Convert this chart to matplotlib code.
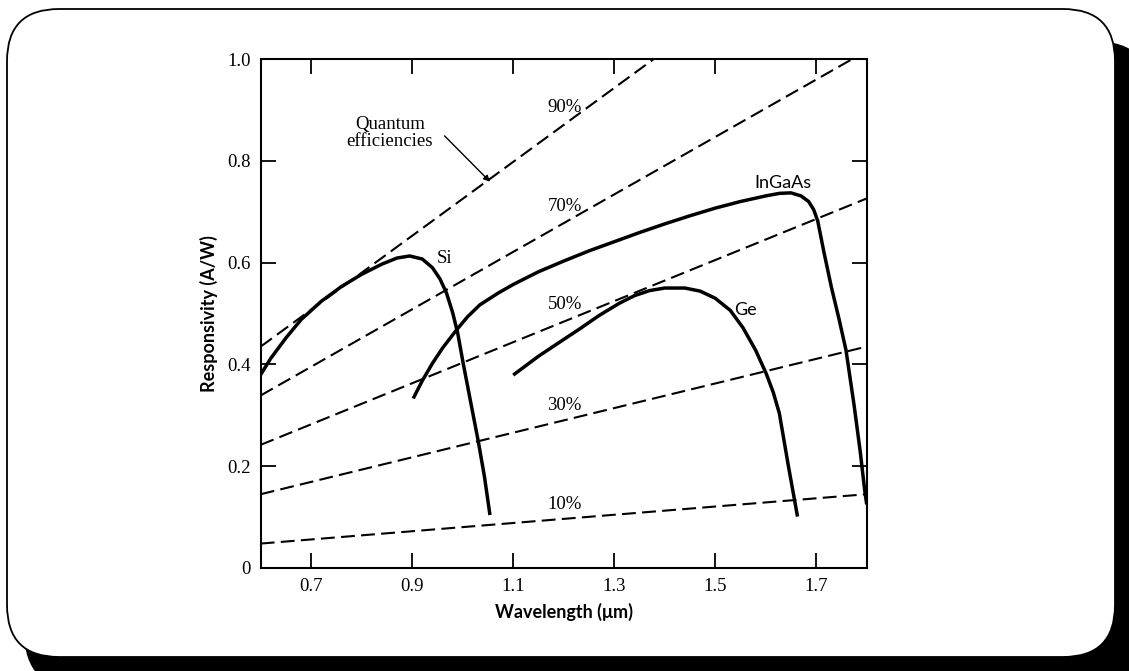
"""Photodiode responsivity vs wavelength with quantum-efficiency lines."""
import matplotlib.pyplot as plt
import matplotlib.patches as patches

plt.rcParams['lines.scale_dashes'] = False

# Quantum-efficiency reference lines (responsivity at 0.6 um and 1.8 um)
qe_labels = ['10%', '30%', '50%', '70%', '90%']
qe_wavelength = [0.6, 1.8]
qe_resp_start = [0.048, 0.145, 0.242, 0.339, 0.435]
qe_resp_end = [0.145, 0.435, 0.726, 1.016, 1.306]

# Measured responsivity curves
si_wl = [0.600, 0.620, 0.650, 0.680, 0.720, 0.760, 0.800, 0.840, 0.870,
         0.895, 0.920, 0.940, 0.955, 0.968, 0.980, 0.990, 1.001, 1.015,
         1.031, 1.043, 1.054]
si_resp = [0.380, 0.412, 0.452, 0.488, 0.524, 0.553, 0.577, 0.597, 0.609,
           0.613, 0.607, 0.590, 0.568, 0.540, 0.502, 0.462, 0.402, 0.330,
           0.248, 0.180, 0.104]

ingaas_wl = [0.902, 0.920, 0.940, 0.960, 0.988, 1.010, 1.034, 1.070, 1.100,
             1.150, 1.200, 1.250, 1.300, 1.350, 1.400, 1.450, 1.500, 1.550,
             1.600, 1.627, 1.650, 1.670, 1.685, 1.695, 1.703, 1.715, 1.730,
             1.745, 1.759, 1.775, 1.787, 1.796, 1.800]
ingaas_resp = [0.333, 0.368, 0.402, 0.432, 0.468, 0.494, 0.517, 0.540, 0.557,
               0.582, 0.603, 0.623, 0.641, 0.659, 0.676, 0.692, 0.707, 0.720,
               0.731, 0.736, 0.737, 0.731, 0.720, 0.704, 0.682, 0.622, 0.552,
               0.490, 0.428, 0.320, 0.230, 0.153, 0.125]

ge_wl = [1.100, 1.150, 1.200, 1.232, 1.270, 1.310, 1.340, 1.370, 1.400,
         1.440, 1.470, 1.500, 1.530, 1.555, 1.580, 1.601, 1.615, 1.627,
         1.645, 1.663]
ge_resp = [0.379, 0.416, 0.449, 0.470, 0.496, 0.520, 0.535, 0.545, 0.550,
           0.550, 0.544, 0.530, 0.506, 0.472, 0.428, 0.382, 0.345, 0.304,
           0.200, 0.101]

x_ticks = [0.7, 0.9, 1.1, 1.3, 1.5, 1.7]
y_ticks = [0, 0.2, 0.4, 0.6, 0.8, 1.0]
y_ticklabels = ['0', '0.2', '0.4', '0.6', '0.8', '1.0']

W, H = 1129, 671
fig = plt.figure(figsize=(W / 100, H / 100), dpi=100)

# Rounded frame with a heavy drop shadow, in pixel units
bg = fig.add_axes([0, 0, 1, 1], zorder=0)
bg.set_xlim(0, W)
bg.set_ylim(0, H)
bg.axis('off')
shadow = patches.FancyBboxPatch((24, -20), 1130, 650,
                                boxstyle="round,pad=0,rounding_size=60",
                                facecolor='black', edgecolor='none')
bg.add_patch(shadow)
card = patches.FancyBboxPatch((7, 14), 1108, 648,
                              boxstyle="round,pad=0,rounding_size=52",
                              facecolor='white', edgecolor='black', linewidth=1.3)
bg.add_patch(card)

ax = fig.add_axes([260.7 / W, 1 - 568 / H, 606 / W, 509 / H], zorder=1)
ax.set_facecolor('none')
ax.set_xlim(0.6, 1.8)
ax.set_ylim(0, 1.0)

serif = 'Liberation Serif'
sans = 'Lato'

# Dashed quantum-efficiency lines
for r0, r1 in zip(qe_resp_start, qe_resp_end):
    ax.plot(qe_wavelength, [r0, r1], color='black', lw=1.5,
            dashes=(10, 4.5), solid_capstyle='butt')

label_y = [0.124, 0.320, 0.517, 0.711, 0.905]
for text, y in zip(qe_labels, label_y):
    ax.text(1.168, y, text, fontsize=13.5, family=serif, ha='left', va='center')

# Responsivity curves
for wl, resp in [(si_wl, si_resp), (ingaas_wl, ingaas_resp), (ge_wl, ge_resp)]:
    ax.plot(wl, resp, color='black', lw=2.5, solid_capstyle='butt',
            solid_joinstyle='round')

ax.text(0.949, 0.609, 'Si', fontsize=13.5, family=serif, ha='left', va='center')
ax.text(1.578, 0.757, 'InGaAs', fontsize=13, family=sans, ha='left', va='center')
ax.text(1.538, 0.507, 'Ge', fontsize=13, family=sans, ha='left', va='center')

ax.text(0.856, 0.855, 'Quantum\nefficiencies', fontsize=13.5, family=serif,
        ha='center', va='center', linespacing=1.0)
ax.annotate('', xy=(1.054, 0.759), xytext=(0.964, 0.849),
            arrowprops=dict(arrowstyle='-|>', lw=1.0, color='black',
                            mutation_scale=9, shrinkA=0, shrinkB=0))

# Axes styling
for spine in ax.spines.values():
    spine.set_linewidth(1.5)
ax.set_xticks(x_ticks)
ax.set_xticklabels([f'{v:.1f}' for v in x_ticks], family=serif, fontsize=13.5)
ax.set_yticks(y_ticks)
ax.set_yticklabels(y_ticklabels, family=serif, fontsize=13.5)
ax.tick_params(direction='in', length=11, width=1.3, top=True, right=True)
ax.tick_params(axis='x', pad=7)
ax.tick_params(axis='y', pad=7)

ax.set_xlabel('Wavelength (\u03bcm)', family=sans, fontsize=13,
              fontweight='bold', labelpad=6)
ax.set_ylabel('Responsivity (A/W)', family=sans, fontsize=13,
              fontweight='bold', labelpad=7)

fig.savefig('out.png', dpi=100)
